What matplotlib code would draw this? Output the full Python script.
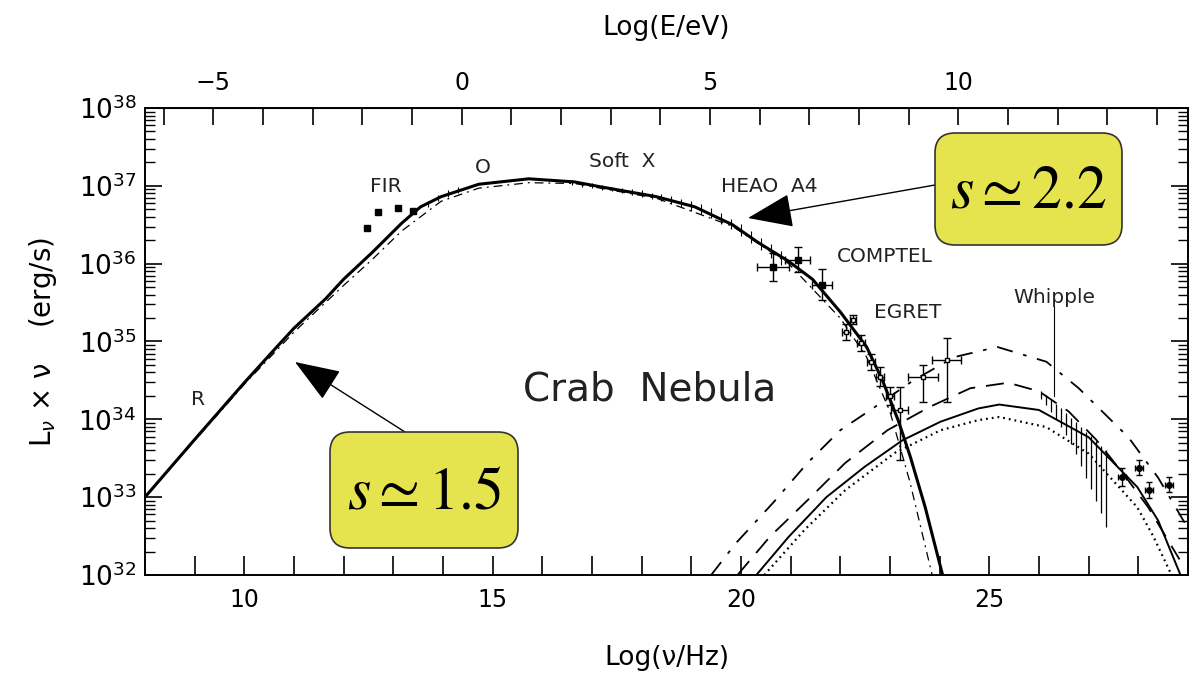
import numpy as np
import matplotlib.pyplot as plt
from matplotlib.patches import FancyBboxPatch

plt.rcParams['font.family'] = ['DejaVu Sans']
plt.rcParams['mathtext.fontset'] = 'dejavusans'

# all values are log10: x = log(nu/Hz), y = log(L_nu * nu / erg s^-1)
sync_x = [8.0, 9.0, 10.0, 10.64, 11.0, 11.64, 12.0, 12.57, 13.17, 13.55, 13.96, 14.72, 15.73,
          16.65, 17.15, 18.3, 19.07, 19.83, 20.35, 20.96, 21.44, 22.0, 22.53, 22.85, 23.17,
          23.41, 23.71, 24.06]
sync_y = [33.0, 33.74, 34.47, 34.92, 35.17, 35.55, 35.8, 36.14, 36.52, 36.73, 36.86, 37.02, 37.09,
          37.05, 36.99, 36.86, 36.73, 36.5, 36.27, 36.03, 35.8, 35.38, 34.93, 34.5, 33.98,
          33.52, 32.87, 32.0]

# dash-dot synchrotron model
sync2_x = [8.0, 10.0, 11.0, 12.0, 12.57, 13.17, 13.96, 14.72, 15.73, 16.65, 18.3, 19.83, 20.96,
           22.0, 22.53, 23.0, 23.4, 23.7, 23.85]
sync2_y = [33.0, 34.45, 35.12, 35.72, 36.05, 36.42, 36.8, 36.97, 37.04, 37.03, 36.84, 36.48, 36.0,
           35.3, 34.8, 34.1, 33.2, 32.4, 32.0]

# inverse Compton models
ic_dd_x = [19.4, 19.9, 20.65, 21.34, 22.0, 22.7, 23.47, 24.3, 25.16, 26.15, 26.8, 27.8, 28.4, 29.0]
ic_dd_y = [32.0, 32.41, 32.93, 33.44, 33.86, 34.16, 34.5, 34.8, 34.93, 34.74, 34.4, 33.77, 33.25, 32.6]

ic_da_x = [19.93, 20.58, 21.34, 22.1, 22.95, 23.8, 24.62, 25.38, 26.0, 26.6, 27.15, 27.7, 28.2, 28.83]
ic_da_y = [32.0, 32.49, 32.96, 33.44, 33.86, 34.16, 34.4, 34.47, 34.36, 34.1, 33.74, 33.3, 32.87, 32.2]

ic_so_x = [20.31, 20.96, 21.72, 22.49, 23.25, 24.02, 24.78, 25.2, 26.0, 27.0, 27.98, 28.4, 28.85]
ic_so_y = [32.0, 32.49, 33.0, 33.39, 33.73, 33.97, 34.14, 34.19, 34.12, 33.77, 33.13, 32.7, 32.0]

ic_do_x = [20.47, 21.28, 22.1, 23.1, 24.02, 24.78, 25.2, 26.15, 27.0, 27.98, 28.3, 28.67]
ic_do_y = [32.0, 32.58, 33.09, 33.57, 33.86, 33.99, 34.03, 33.9, 33.56, 32.87, 32.5, 32.0]

# observations
fir_x = [12.47, 12.70, 13.09, 13.40]
fir_y = [36.46, 36.67, 36.72, 36.68]

heao_x = [13.7, 13.9, 14.1, 14.3, 16.6, 16.8, 17.0, 17.2, 17.4, 17.6, 17.8, 18.0, 18.2, 18.4,
          18.6, 18.8, 19.0, 19.2, 19.4, 19.6, 19.8, 20.0, 20.2, 20.4, 20.6, 20.8]
heao_y = [36.77, 36.84, 36.9, 36.95, 37.04, 37.02, 37.0, 36.98, 36.96, 36.94, 36.92, 36.9, 36.87,
          36.85, 36.82, 36.78, 36.74, 36.70, 36.65, 36.58, 36.51, 36.43, 36.34, 36.25, 36.16, 36.07]
heao_err = [0.04, 0.04, 0.04, 0.04, 0.03, 0.03, 0.03, 0.03, 0.03, 0.03, 0.04, 0.04, 0.04, 0.05,
            0.05, 0.05, 0.06, 0.06, 0.06, 0.07, 0.07, 0.08, 0.08, 0.08, 0.09, 0.09]

comptel_x = [20.64, 21.14, 21.64]
comptel_y = [35.96, 36.05, 35.73]
comptel_xerr = [0.32, 0.25, 0.2]
comptel_yerr = [0.18, 0.16, 0.2]

egret_x = [22.12, 22.25, 22.42, 22.62, 22.8, 23.0, 23.2, 23.67, 24.14]
egret_y = [35.12, 35.28, 34.98, 34.74, 34.55, 34.3, 34.12, 34.55, 34.76]
egret_xerr = [0.08, 0.06, 0.08, 0.08, 0.08, 0.08, 0.17, 0.3, 0.3]
egret_ylo = [0.1, 0.06, 0.1, 0.1, 0.12, 0.12, 0.64, 0.33, 0.54]
egret_yhi = [0.1, 0.06, 0.1, 0.1, 0.12, 0.12, 0.3, 0.15, 0.29]

whipple_x = [26.05, 26.15, 26.25, 26.35, 26.45, 26.55, 26.65, 26.75, 26.85, 26.95, 27.05, 27.15, 27.25, 27.35]
whipple_top = [34.36, 34.31, 34.26, 34.2, 34.14, 34.08, 34.02, 33.96, 33.9, 33.84, 33.78, 33.72, 33.66, 33.6]
whipple_bot = [34.26, 34.18, 34.1, 34.0, 33.9, 33.8, 33.68, 33.55, 33.4, 33.25, 33.1, 32.95, 32.8, 32.62]
whipple_lead_x = [26.3, 26.3]
whipple_lead_y = [35.45, 34.3]

hess_x = [27.68, 28.02, 28.22, 28.62]
hess_y = [33.26, 33.38, 33.09, 33.16]
hess_err = [0.12, 0.1, 0.1, 0.1]

labels = [("FIR", 12.85, 36.99), ("O", 14.8, 37.23), ("Soft  X", 17.6, 37.31),
          ("HEAO  A4", 20.57, 36.99), ("COMPTEL", 22.9, 36.09), ("EGRET", 23.35, 35.37),
          ("Whipple", 26.3, 35.57), ("R", 9.07, 34.25)]

P = lambda v: 10.0 ** np.asarray(v, dtype=float)

fig = plt.figure(figsize=(11.92, 6.86), dpi=100)
ax = fig.add_axes([0.1216, 0.1618, 0.8750, 0.6808])
ax.set_yscale('log')
ax.set_xlim(8, 29)
ax.set_ylim(1e32, 1e38)

ax.plot(sync_x, P(sync_y), color='k', lw=2.2)
ax.plot(sync2_x, P(sync2_y), color='k', lw=0.9, dashes=(7, 4, 1.5, 4))
ax.plot(ic_dd_x, P(ic_dd_y), color='k', lw=1.3, dashes=(9, 6, 2, 6))
ax.plot(ic_da_x, P(ic_da_y), color='k', lw=1.3, dashes=(10, 6))
ax.plot(ic_so_x, P(ic_so_y), color='k', lw=1.4)
ax.plot(ic_do_x, P(ic_do_y), color='k', lw=1.6, dashes=(0.8, 1.8))

ax.plot(fir_x, P(fir_y), 's', color='k', ms=5)
hy = np.array(heao_y)
he = np.array(heao_err)
ax.vlines(heao_x, P(hy - he), P(hy + he), color='k', lw=0.8)

cy = np.array(comptel_y)
ce = np.array(comptel_yerr)
ax.errorbar(comptel_x, P(cy), xerr=comptel_xerr, yerr=[P(cy) - P(cy - ce), P(cy + ce) - P(cy)],
            fmt='s', ms=4, color='k', lw=1, capsize=3)

ey = np.array(egret_y)
ax.errorbar(egret_x, P(ey), xerr=egret_xerr,
            yerr=[P(ey) - P(ey - np.array(egret_ylo)), P(ey + np.array(egret_yhi)) - P(ey)],
            fmt='s', ms=3, mfc='white', color='k', lw=1, capsize=3)

ax.vlines(whipple_x, P(whipple_bot), P(whipple_top), color='k', lw=0.9)
ax.plot(whipple_lead_x, P(whipple_lead_y), color='k', lw=0.8)

sy = np.array(hess_y)
se = np.array(hess_err)
ax.errorbar(hess_x, P(sy), xerr=0.08, yerr=[P(sy) - P(sy - se), P(sy + se) - P(sy)],
            fmt='o', ms=4, color='k', lw=1, capsize=2)

for txt, x, y in labels:
    ax.text(x, P(y), txt, fontsize=14.5, ha='center', va='center', color='#222222')
ax.text(18.16, P(34.38), "Crab  Nebula", fontsize=28, ha='center', va='center', color='#222222')

# ticks
ax.set_xticks([10, 15, 20, 25])
ax.set_xticks(np.arange(9, 29), minor=True)
ax.tick_params(axis='x', which='both', direction='in', length=14, width=1.2, top=False,
               labelsize=17, pad=9)
ax.tick_params(axis='y', which='major', direction='in', length=12, width=1.2, right=True,
               labelsize=19, pad=6)
ax.tick_params(axis='y', which='minor', direction='in', length=7, width=1, right=True)

sec = ax.secondary_xaxis('top', functions=(lambda x: x - 14.38, lambda e: e + 14.38))
sec.set_xticks([-5, 0, 5, 10])
sec.set_xticks(np.arange(-6, 15), minor=True)
sec.tick_params(axis='x', which='both', direction='in', length=12, width=1.2, labelsize=17, pad=9)
sec.set_xlabel("Log(E/eV)", fontsize=19, labelpad=26)

for s in ax.spines.values():
    s.set_linewidth(1.4)

ax.set_xlabel("Log(ν/Hz)", fontsize=19, labelpad=24)
ax.set_ylabel("L$_ν$ × ν    (erg/s)", fontsize=20, labelpad=14)

# yellow callouts (positions in inches on the figure)
tr = fig.dpi_scale_trans
for (x0, y0, w, h, txt) in [(9.35, 4.41, 1.87, 1.12, r"$s \simeq 2.2$"),
                            (3.30, 1.38, 1.88, 1.16, r"$s \simeq 1.5$")]:
    box = FancyBboxPatch((x0, y0), w, h, boxstyle='round,pad=0,rounding_size=0.2',
                         transform=tr, facecolor='#e6e44e', edgecolor='#333333', lw=1.2,
                         zorder=5)
    fig.patches.append(box)
    fig.text(x0 + w / 2, y0 + h / 2 - 0.02, txt, transform=tr, ha='center', va='center',
             fontsize=43, zorder=6, math_fontfamily='stix')

arrow = dict(arrowstyle='-|>,head_length=1.2,head_width=0.45', color='k', lw=1,
             mutation_scale=24, shrinkA=0, shrinkB=0)
ax.annotate('', xy=(7.48, 4.68), xycoords=tr, xytext=(9.35, 5.01), textcoords=tr,
            arrowprops=arrow)
ax.annotate('', xy=(2.95, 3.24), xycoords=tr, xytext=(4.05, 2.54), textcoords=tr,
            arrowprops=arrow)

fig.savefig('out.png', dpi=100)
